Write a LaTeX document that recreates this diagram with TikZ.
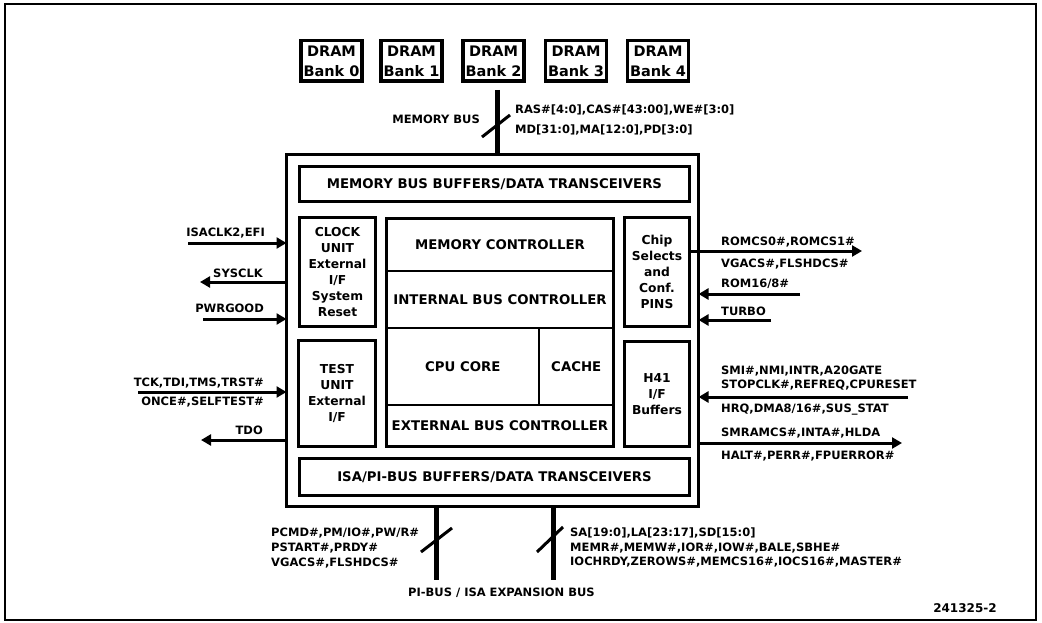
\documentclass[tikz,border=0pt]{standalone}
\usepackage{fontspec}
\setmainfont{DejaVu Sans}
\usetikzlibrary{arrows.meta}
\newcommand{\sigfont}{\fontsize{11.5}{14}\selectfont\bfseries}
\newcommand{\boxfont}{\fontsize{13.3}{16}\selectfont\bfseries}
\newcommand{\smallboxfont}{\fontsize{12.3}{16}\selectfont\bfseries}
\newcommand{\dramfont}{\fontsize{14.5}{20}\selectfont\bfseries}
\begin{document}
\begin{tikzpicture}[x=1pt,y=-1pt,
  box/.style={draw, line width=2.5pt, inner sep=0pt, outer sep=0pt, align=center, font=\boxfont},
  sbox/.style={box, font=\smallboxfont},
  drambox/.style={draw, line width=3.5pt, inner sep=0pt, outer sep=0pt, align=center,
    minimum width=61pt, minimum height=40.5pt, font=\dramfont},
  outerbox/.style={draw, line width=3pt, inner sep=0pt, outer sep=0pt},
  sig/.style={line width=3pt},
  arr/.style={-{Triangle[length=10pt,width=11pt]}},
  bus/.style={line width=5pt},
  slash/.style={line width=3pt},
  lbl/.style={font=\sigfont, inner sep=0pt, text height=8pt, text depth=0pt}]
\useasboundingbox (0,0) rectangle (1042,623);
\draw[line width=1.2pt] (5,4) rectangle (1036,620);

% DRAM banks
\node[drambox] (d0) at (331.5,61) {DRAM\\Bank 0};
\node[drambox] (d1) at (411.5,61) {DRAM\\Bank 1};
\node[drambox] (d2) at (493.5,61) {DRAM\\Bank 2};
\node[drambox] (d3) at (576,61) {DRAM\\Bank 3};
\node[drambox] (d4) at (658,61) {DRAM\\Bank 4};

% main chip
\node[outerbox, minimum width=412pt, minimum height=352pt] (outer) at (492.5,330.5) {};
\node[box, minimum width=390pt, minimum height=35pt] (membuf) at (494.5,184) {MEMORY BUS BUFFERS/DATA TRANSCEIVERS};
\node[sbox, minimum width=76pt, minimum height=109pt] (clock) at (337.5,272) {CLOCK\\UNIT\\External\\I/F\\System\\Reset};
\node[box, minimum width=227pt, minimum height=52.5pt] (memctl) at (500,244.75) {MEMORY CONTROLLER};
\node[box, minimum width=227pt, minimum height=57pt] (ibc) at (500,299.5) {INTERNAL BUS CONTROLLER};
\node[box, minimum width=152.5pt, minimum height=77pt] (cpu) at (462.75,366.5) {CPU CORE};
\node[box, minimum width=74.5pt, minimum height=77pt] (cache) at (576.25,366.5) {CACHE};
\node[box, minimum width=227pt, minimum height=41.5pt] (ebc) at (500,425.75) {EXTERNAL BUS CONTROLLER};
\node[sbox, minimum width=65pt, minimum height=109pt] (chip) at (657,272) {Chip\\Selects\\and\\Conf.\\PINS};
\node[sbox, minimum width=77pt, minimum height=106pt] (test) at (337,393.5) {TEST\\UNIT\\External\\I/F};
\node[sbox, minimum width=65pt, minimum height=105pt] (h41) at (657,394) {H41\\I/F\\Buffers};
\node[box, minimum width=390pt, minimum height=37pt] (isabuf) at (494.5,477) {ISA/PI-BUS BUFFERS/DATA TRANSCEIVERS};

% memory bus
\coordinate (mbtop) at (497,90);
\draw[bus] (mbtop) -- (mbtop |- outer.north);
\draw[slash] (482,137) -- (510,115);
\node[lbl, anchor=east] (mbname) at (480,120) {MEMORY BUS};
\node[lbl, anchor=west] (mbs1) at (515,110) {RAS\#[4:0],CAS\#[43:00],WE\#[3:0]};
\node[lbl, anchor=west] (mbs2) at (515,130) {MD[31:0],MA[12:0],PD[3:0]};

% left signals
\coordinate (isaW) at (188,243);
\coordinate (sysW) at (200,282);
\coordinate (pwrW) at (203,319);
\coordinate (tckW) at (138,392);
\coordinate (tdoW) at (201,440);
\draw[sig,arr] (isaW) -- (isaW -| outer.west);
\draw[sig,arr] (sysW -| outer.west) -- (sysW);
\draw[sig,arr] (pwrW) -- (pwrW -| outer.west);
\draw[sig,arr] (tckW) -- (tckW -| outer.west);
\draw[sig,arr] (tdoW -| outer.west) -- (tdoW);
\node[lbl, anchor=east] (lisa) at (265,232) {ISACLK2,EFI};
\node[lbl, anchor=east] (lsys) at (263,273) {SYSCLK};
\node[lbl, anchor=east] (lpwr) at (264,308) {PWRGOOD};
\node[lbl, anchor=east] (ltck) at (264,382) {TCK,TDI,TMS,TRST\#};
\node[lbl, anchor=east] (lonce) at (264,401) {ONCE\#,SELFTEST\#};
\node[lbl, anchor=east] (ltdo) at (263,430) {TDO};

% right signals
\coordinate (romE) at (862,251);
\coordinate (r168E) at (800,294);
\coordinate (turE) at (771,320);
\coordinate (smiE) at (908,397);
\coordinate (smrE) at (902,443);
\draw[sig,arr] (romE -| chip.east) -- (romE);
\draw[sig,arr] (r168E) -- (r168E -| outer.east);
\draw[sig,arr] (turE) -- (turE -| outer.east);
\draw[sig,arr] (smiE) -- (smiE -| outer.east);
\draw[sig,arr] (smrE -| outer.east) -- (smrE);
\node[lbl, anchor=west] (rrom1) at (721,241) {ROMCS0\#,ROMCS1\#};
\node[lbl, anchor=west] (rrom2) at (721,263) {VGACS\#,FLSHDCS\#};
\node[lbl, anchor=west] (r168) at (721,283) {ROM16/8\#};
\node[lbl, anchor=west] (rtur) at (721,311) {TURBO};
\node[lbl, anchor=west] (rsmi1) at (721,370) {SMI\#,NMI,INTR,A20GATE};
\node[lbl, anchor=west] (rsmi2) at (721,384) {STOPCLK\#,REFREQ,CPURESET};
\node[lbl, anchor=west] (rsmi3) at (721,408) {HRQ,DMA8/16\#,SUS\_STAT};
\node[lbl, anchor=west] (rsmr1) at (721,432) {SMRAMCS\#,INTA\#,HLDA};
\node[lbl, anchor=west] (rsmr2) at (721,455) {HALT\#,PERR\#,FPUERROR\#};

% bottom buses
\coordinate (piB) at (436,580);
\coordinate (isaB) at (553,580);
\draw[bus] (piB |- outer.south) -- (piB);
\draw[bus] (isaB |- outer.south) -- (isaB);
\draw[slash] (421,552) -- (452,528);
\draw[slash] (537,552) -- (563,527);
\node[lbl, anchor=west] (p1) at (271,532) {PCMD\#,PM/IO\#,PW/R\#};
\node[lbl, anchor=west] (p2) at (271,547) {PSTART\#,PRDY\#};
\node[lbl, anchor=west] (p3) at (271,562) {VGACS\#,FLSHDCS\#};
\node[lbl, anchor=west] (i1) at (570,532) {SA[19:0],LA[23:17],SD[15:0]};
\node[lbl, anchor=west] (i2) at (570,547) {MEMR\#,MEMW\#,IOR\#,IOW\#,BALE,SBHE\#};
\node[lbl, anchor=west] (i3) at (570,561) {IOCHRDY,ZEROWS\#,MEMCS16\#,IOCS16\#,MASTER\#};
\node[lbl, anchor=west] (busname) at (408,592) {PI-BUS / ISA EXPANSION BUS};
\node[lbl, font=\fontsize{12}{14}\selectfont\bfseries] (figid) at (965,608) {241325-2};
\end{tikzpicture}
\end{document}
